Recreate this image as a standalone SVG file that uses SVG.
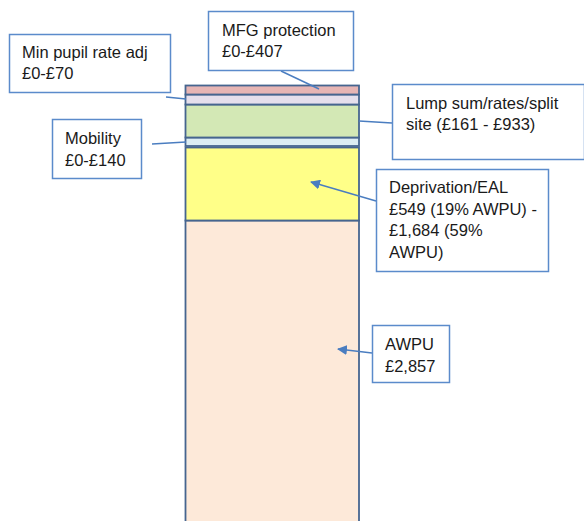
<svg xmlns="http://www.w3.org/2000/svg" width="584" height="521" viewBox="0 0 584 521">
  <defs>
    <style>
      .seg { stroke: #46658f; stroke-width: 1.8; }
      .box { fill: #ffffff; stroke: #5b8bcb; stroke-width: 1.5; }
      .lbl { font-family: "Liberation Sans", Arial, sans-serif; font-size: 16.5px; fill: #1a1a1a; }
      .conn { stroke: #4a7dc0; stroke-width: 1.4; fill: none; }
    </style>
    <marker id="arrow" viewBox="0 0 10 10" refX="9" refY="5" markerWidth="10" markerHeight="10" markerUnits="userSpaceOnUse" orient="auto">
      <path d="M0,0 L10,5 L0,10 Z" fill="#4a7dc0"/>
    </marker>
  </defs>

  <rect width="584" height="521" fill="#ffffff"/>

  <!-- stacked funding column -->
  <g id="column">
    <rect id="seg-awpu" class="seg" x="185.5" y="220.5" width="173.5" height="310" fill="#fde9d9"/>
    <rect id="seg-deprivation" class="seg" x="185.5" y="147.5" width="173.5" height="73" fill="#ffff88"/>
    <rect id="seg-mobility" class="seg" x="185.5" y="137.5" width="173.5" height="8.5" fill="#dcedf3"/>
    <rect id="seg-lump" class="seg" x="185.5" y="104.5" width="173.5" height="33" fill="#d3e8b5"/>
    <rect id="seg-minpupil" class="seg" x="185.5" y="94.5" width="173.5" height="10" fill="#e5dfec"/>
    <rect id="seg-mfg" class="seg" x="185.5" y="85.5" width="173.5" height="9" fill="#e6b5b4"/>
  </g>

  <!-- connectors -->
  <g id="connectors">
    <line class="conn" x1="281" y1="71" x2="319" y2="89"/>
    <line class="conn" x1="166" y1="97" x2="186" y2="99"/>
    <line class="conn" x1="152" y1="144" x2="186" y2="142"/>
    <line class="conn" x1="359" y1="121" x2="392" y2="123"/>
    <line class="conn" x1="376" y1="201" x2="311" y2="182" marker-end="url(#arrow)"/>
    <line class="conn" x1="372" y1="353" x2="338" y2="349" marker-end="url(#arrow)"/>
  </g>

  <!-- callout boxes -->
  <g id="node-mfg">
    <rect class="box" x="208.5" y="11.5" width="145" height="59"/>
    <text class="lbl" x="222" y="36">MFG protection</text>
    <text class="lbl" x="222" y="57">£0-£407</text>
  </g>

  <g id="node-minpupil">
    <rect class="box" x="9.5" y="34.5" width="161" height="58"/>
    <text class="lbl" x="22" y="58">Min pupil rate adj</text>
    <text class="lbl" x="22" y="79">£0-£70</text>
  </g>

  <g id="node-mobility">
    <rect class="box" x="52.5" y="119.5" width="89" height="59"/>
    <text class="lbl" x="65" y="144">Mobility</text>
    <text class="lbl" x="65" y="166">£0-£140</text>
  </g>

  <g id="node-lump">
    <rect class="box" x="392.5" y="84.5" width="192" height="75"/>
    <text class="lbl" x="406" y="109">Lump sum/rates/split</text>
    <text class="lbl" x="406" y="130">site (£161 - £933)</text>
  </g>

  <g id="node-deprivation">
    <rect class="box" x="376.5" y="169.5" width="172" height="102"/>
    <text class="lbl" x="389" y="193">Deprivation/EAL</text>
    <text class="lbl" x="389" y="215">£549 (19% AWPU) -</text>
    <text class="lbl" x="389" y="236">£1,684 (59%</text>
    <text class="lbl" x="389" y="258">AWPU)</text>
  </g>

  <g id="node-awpu">
    <rect class="box" x="372.5" y="325.5" width="77" height="57"/>
    <text class="lbl" x="385" y="350">AWPU</text>
    <text class="lbl" x="385" y="372">£2,857</text>
  </g>
</svg>
